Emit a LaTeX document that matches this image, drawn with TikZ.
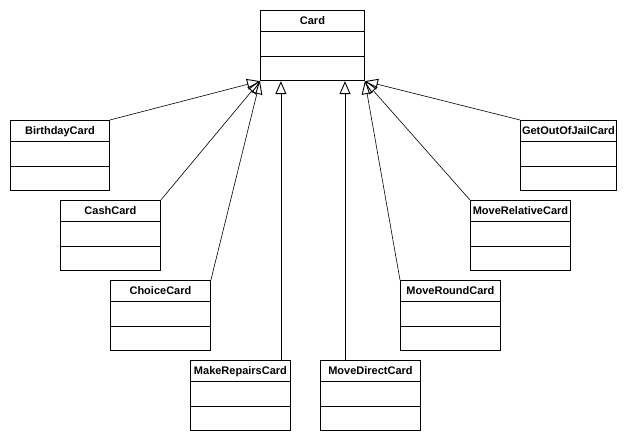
\documentclass[tikz,border=0pt]{standalone}
\usepackage{fontspec}
\setmainfont{Liberation Sans}
\usetikzlibrary{arrows.meta,shapes.multipart,positioning,calc}

\tikzset{
  umlclass/.style={rectangle split, rectangle split parts=3, draw,
    line width=0.9pt, inner xsep=0pt, inner ysep=0pt, text width=100pt,
    align=center, anchor=north west, font=\fontsize{11}{12}\selectfont\bfseries},
  inherit/.style={line width=0.6pt, -{Triangle[open, length=13pt, width=11pt, line width=0.9pt]}}
}
\newcommand{\classbox}[1]{\rule[-6.5pt]{0pt}{20.5pt}#1\nodepart{two}\rule{0pt}{23.5pt}\nodepart{three}\rule{0pt}{23.5pt}}

\begin{document}
\begin{tikzpicture}[x=1pt, y=-1pt]
  \useasboundingbox (0,0) rectangle (630,441);
  % parent class
  \node[umlclass, text width=104pt] (card) at (260,10) {\classbox{Card}};
  % subclasses, left side
  \node[umlclass, text width=99pt] (birthday) at (10,120) {\classbox{BirthdayCard}};
  \node[umlclass] (cash) at (60,200) {\classbox{CashCard}};
  \node[umlclass] (choice) at (110,280) {\classbox{ChoiceCard}};
  \node[umlclass] (repairs) at (190,360) {\classbox{MakeRepairsCard}};
  % subclasses, right side
  \node[umlclass] (direct) at (320,360) {\classbox{MoveDirectCard}};
  \node[umlclass] (round) at (400,280) {\classbox{MoveRoundCard}};
  \node[umlclass] (relative) at (470,200) {\classbox{MoveRelativeCard}};
  \node[umlclass, text width=96pt] (jail) at (520,120) {\classbox{GetOutOfJailCard}};
  % generalisations
  \draw[inherit] (birthday.north east) -- (card.south west);
  \draw[inherit] (cash.north east) -- (card.south west);
  \draw[inherit] (choice.north east) -- (card.south west);
  \draw[inherit] ([xshift=-10pt]repairs.north east) -- ([xshift=-10pt]repairs.north east |- card.south);
  \draw[inherit] ([xshift=25pt]direct.north west) -- ([xshift=25pt]direct.north west |- card.south);
  \draw[inherit] (round.north west) -- (card.south east);
  \draw[inherit] (relative.north west) -- (card.south east);
  \draw[inherit] (jail.north west) -- (card.south east);
\end{tikzpicture}
\end{document}
